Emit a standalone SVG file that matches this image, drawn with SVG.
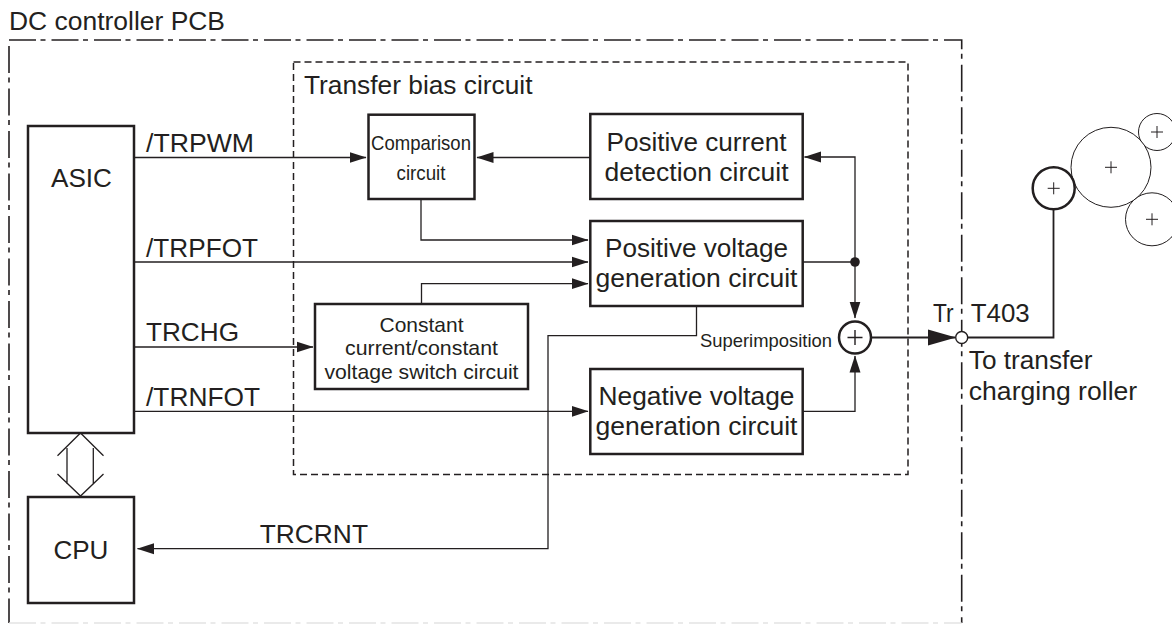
<svg xmlns="http://www.w3.org/2000/svg" width="1172" height="624" viewBox="0 0 1172 624">
<defs>
<style>
text{font-family:"Liberation Sans",Arial,sans-serif;fill:#231f20;font-size:25.500px}
.c{text-anchor:middle}
.s{font-size:21px}
.box{fill:#fff;stroke:#231f20;stroke-width:2.500}
.thin{fill:none;stroke:#231f20;stroke-width:1.300}
.a{marker-end:url(#arr)}
.outer{fill:none;stroke:#231f20;stroke-width:1.600;stroke-dasharray:27 4.500 5 6}
.inner{fill:none;stroke:#231f20;stroke-width:1.500;stroke-dasharray:7 4}
.roll{fill:#fff;stroke:#231f20;stroke-width:1}
.plus{fill:none;stroke:#231f20;stroke-width:1}
</style>
<marker id="arr" markerUnits="userSpaceOnUse" markerWidth="18" markerHeight="12" refX="16.500" refY="6" orient="auto"><path d="M0 .5L17 6L0 11.500Z" fill="#231f20"/></marker>
<marker id="big" markerUnits="userSpaceOnUse" markerWidth="30" markerHeight="18" refX="27" refY="9" orient="auto"><path d="M0 1L28 9L0 17Z" fill="#231f20"/></marker>
</defs>
<rect width="1172" height="624" fill="#fff"/>
<g id="frames">
<path class="outer" d="M9 40H961.700V623"/>
<path class="outer" d="M9 46V623"/>
<path class="outer" d="M9 623H961.700" style="stroke:#e4e4e4"/>
<path class="inner" d="M293.500 62H908V474.500H293.500Z"/>
<text x="9" y="29.500" textLength="216" lengthAdjust="spacingAndGlyphs">DC controller PCB</text>
<text x="304" y="94" textLength="228.500" lengthAdjust="spacingAndGlyphs">Transfer bias circuit</text>
</g>
<g id="connectors">
<path class="thin a" d="M134 157.500H366"/>
<path class="thin a" d="M590 157.500H477"/>
<path class="thin a" d="M421 199V240H588"/>
<path class="thin a" d="M134 262H588"/>
<path class="thin a" d="M421.500 304V283.700H588"/>
<path class="thin a" d="M134 347H313"/>
<path class="thin a" d="M134 411.300H588"/>
<path class="thin a" d="M696.500 306V335.700H548V548.700H137.500"/>
<path class="thin" d="M802 262H855"/>
<path class="thin a" d="M855 262V157H804.500"/>
<path class="thin a" d="M855 262V318"/>
<path class="thin a" d="M802 411.300H855V356"/>
<circle cx="855" cy="262" r="4.800" fill="#231f20"/>
<path d="M871 337.500H955" fill="none" stroke="#231f20" stroke-width="1.800" marker-end="url(#big)"/>
<path d="M967 337.500H1053.500V210" fill="none" stroke="#231f20" stroke-width="1.800"/>
<path class="thin" d="M57.500 455.700L80.500 433L103.500 455.700M57.500 474L80.500 496L103.500 474M67 448V484M93.300 448V484"/>
</g>
<g id="asic"><rect class="box" x="28" y="126" width="106" height="307"/><text x="51" y="186.700" textLength="61" lengthAdjust="spacingAndGlyphs">ASIC</text></g>
<g id="cpu"><rect class="box" x="28" y="497" width="106" height="106"/><text x="53.400" y="559" textLength="55" lengthAdjust="spacingAndGlyphs">CPU</text></g>
<g id="comparison"><rect class="box" x="368.500" y="114.700" width="106" height="84.300"/>
<text class="c s" x="421" y="150" textLength="100" lengthAdjust="spacingAndGlyphs">Comparison</text>
<text class="c s" x="421" y="180" textLength="49" lengthAdjust="spacingAndGlyphs">circuit</text></g>
<g id="pos-detect"><rect class="box" x="590.300" y="114" width="212.400" height="85"/>
<text class="c" x="696.500" y="151" textLength="180" lengthAdjust="spacingAndGlyphs">Positive current</text>
<text class="c" x="696.500" y="180.700" textLength="184" lengthAdjust="spacingAndGlyphs">detection circuit</text></g>
<g id="pos-gen"><rect class="box" x="590.300" y="221" width="212.400" height="85"/>
<text class="c" x="696.500" y="257" textLength="183" lengthAdjust="spacingAndGlyphs">Positive voltage</text>
<text class="c" x="696.500" y="286.700" textLength="202" lengthAdjust="spacingAndGlyphs">generation circuit</text></g>
<g id="neg-gen"><rect class="box" x="590.300" y="369" width="212.400" height="85"/>
<text class="c" x="696.500" y="405" textLength="196" lengthAdjust="spacingAndGlyphs">Negative voltage</text>
<text class="c" x="696.500" y="435" textLength="202" lengthAdjust="spacingAndGlyphs">generation circuit</text></g>
<g id="switch"><rect class="box" x="315" y="304" width="213" height="85"/>
<text class="c s" x="421.500" y="331.700" textLength="84" lengthAdjust="spacingAndGlyphs">Constant</text>
<text class="c s" x="421.500" y="354.700" textLength="153" lengthAdjust="spacingAndGlyphs">current/constant</text>
<text class="c s" x="421.500" y="379" textLength="194" lengthAdjust="spacingAndGlyphs">voltage switch circuit</text></g>
<g id="sum"><circle cx="855" cy="337.500" r="16" fill="#fff" stroke="#231f20" stroke-width="2.500"/>
<path d="M847.500 337.500H862.500M855 330V345" fill="none" stroke="#231f20" stroke-width="1.400"/></g>
<g id="terminal"><circle cx="961.700" cy="337.500" r="6" fill="#fff" stroke="#231f20" stroke-width="1.400"/></g>
<g id="rollers">
<circle class="roll" cx="1157" cy="132" r="18.500"/><path class="plus" d="M1151 132H1163M1157 126V138"/>
<circle class="roll" cx="1152" cy="219.300" r="26.500"/><path class="plus" d="M1146 219.300H1158M1152 213.300V225.300"/>
<circle class="roll" cx="1111" cy="167.300" r="40"/><path class="plus" d="M1105 167.300H1117M1111 161.300V173.300"/>
<circle cx="1053.700" cy="188.300" r="21" fill="#fff" stroke="#231f20" stroke-width="2.500"/><path class="plus" d="M1047.700 188.300H1059.700M1053.700 182.300V194.300"/>
</g>
<g id="labels">
<text x="146" y="152" textLength="108" lengthAdjust="spacingAndGlyphs">/TRPWM</text>
<text x="146" y="256.700" textLength="112" lengthAdjust="spacingAndGlyphs">/TRPFOT</text>
<text x="146" y="341.300" textLength="93" lengthAdjust="spacingAndGlyphs">TRCHG</text>
<text x="146" y="405.700" textLength="114" lengthAdjust="spacingAndGlyphs">/TRNFOT</text>
<text x="259.700" y="543" textLength="108.300" lengthAdjust="spacingAndGlyphs">TRCRNT</text>
<text x="700" y="347" style="font-size:19px" textLength="132" lengthAdjust="spacingAndGlyphs">Superimposition</text>
<text x="933" y="322" textLength="20.600" lengthAdjust="spacingAndGlyphs">Tr</text>
<text x="970.700" y="322" textLength="59" lengthAdjust="spacingAndGlyphs">T403</text>
<text x="968.800" y="368.700" textLength="123.800" lengthAdjust="spacingAndGlyphs">To transfer</text>
<text x="968.800" y="400" textLength="168.400" lengthAdjust="spacingAndGlyphs">charging roller</text>
</g>
</svg>
